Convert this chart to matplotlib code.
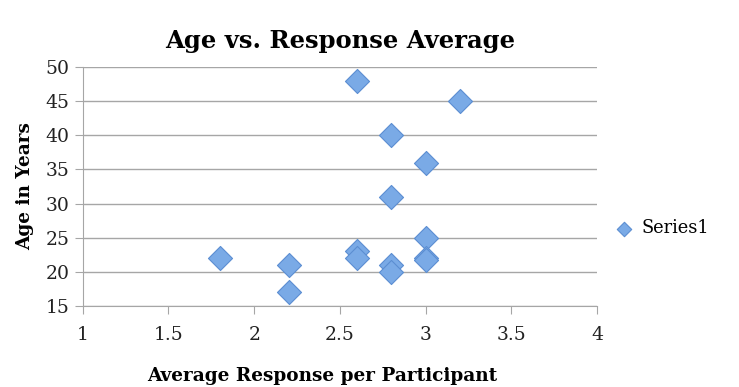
import matplotlib.pyplot as plt

# datos
respuesta = [2.6, 3.2, 2.8, 3.0, 2.8, 3.0, 2.6, 2.6, 1.8, 2.2, 2.2, 2.8, 2.8, 3.0, 3.0]
edad = [48, 45, 40, 36, 31, 25, 23, 22, 22, 21, 17, 21, 20, 22, 21.8]

plt.rcParams['font.family'] = ['DejaVu Serif']

fig = plt.figure(figsize=(7.39, 3.87), dpi=100)
ax = fig.add_axes([0.112, 0.209, 0.696, 0.618])

ax.scatter(respuesta, edad, marker='D', s=150, color='#7aaae6', edgecolor='#5b8ed2',
           linewidth=0.8, zorder=3, label='Series1')

ax.set_xlim(1, 4)
ax.set_ylim(15, 50)
ax.set_xticks([1, 1.5, 2, 2.5, 3, 3.5, 4])
ax.set_xticklabels(['1', '1.5', '2', '2.5', '3', '3.5', '4'])
ax.set_yticks(range(15, 51, 5))

ax.grid(axis='y', color='#a6a6a6', linewidth=1)
ax.set_axisbelow(True)
for s in ['top', 'right']:
    ax.spines[s].set_visible(False)
ax.spines['left'].set_color('#a6a6a6')
ax.spines['bottom'].set_color('#a6a6a6')
ax.tick_params(colors='#a6a6a6', labelcolor='#222222', labelsize=13.5, length=6)
ax.tick_params(axis='x', pad=8)

ax.set_title('Age vs. Response Average', fontsize=17.5, fontweight='bold', pad=14)
ax.set_xlabel('Average Response per Participant', fontsize=13.3, fontweight='bold')
ax.xaxis.set_label_coords(0.465, -0.255)
ax.set_ylabel('Age in Years', fontsize=13.3, fontweight='bold', labelpad=8)

fig.legend(loc='center left', bbox_to_anchor=(0.82, 0.41), frameon=False, fontsize=12.8,
           handletextpad=0.0, markerscale=0.6, borderaxespad=0, borderpad=0)

plt.savefig('out.png', dpi=100)
